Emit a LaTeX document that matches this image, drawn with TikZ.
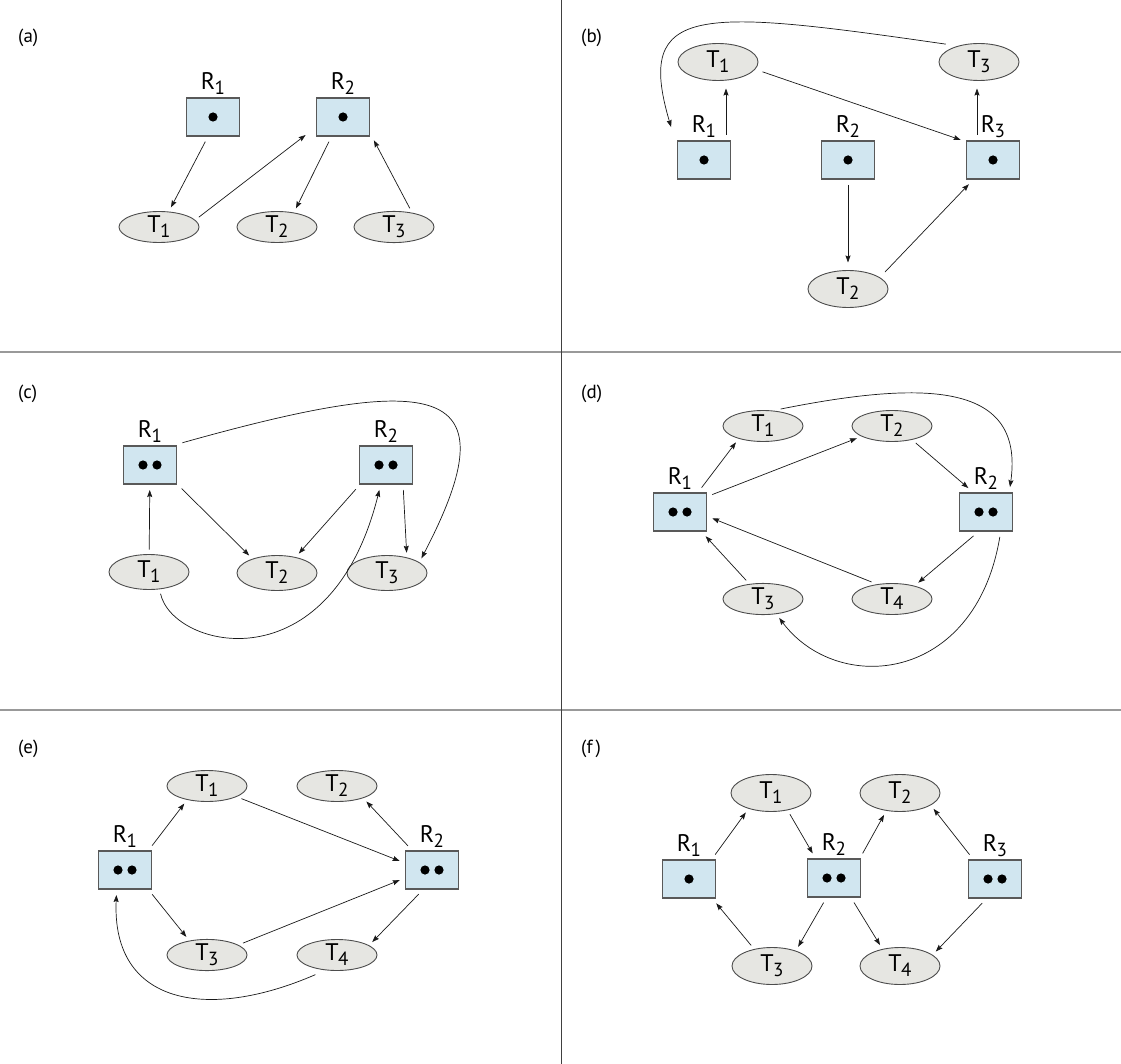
\documentclass[tikz,border=0pt]{standalone}
\usepackage{fontspec}
\setmainfont{PT Sans}
\usetikzlibrary{arrows.meta,positioning,shapes.geometric}
\definecolor{resblue}{RGB}{209,230,240}
\definecolor{procgray}{RGB}{230,230,226}
\newcommand{\subidx}[1]{\raisebox{-5pt}{\fontsize{19}{19}\selectfont #1}}
\newcommand{\tlab}[1]{T\kern-0.5pt\subidx{#1}}
\newcommand{\rlab}[1]{R\kern-0.5pt\subidx{#1}}
\begin{document}
\begin{tikzpicture}[x=1pt,y=-1pt,
    res/.style={rectangle,draw=black!65,line width=1.2pt,fill=resblue,minimum width=53pt,minimum height=38pt,inner sep=0pt,outer sep=3pt},
    one/.style={path picture={\fill[black] (path picture bounding box.center) circle (4.6pt);}},
    two/.style={path picture={\fill[black] ([xshift=-7pt]path picture bounding box.center) circle (4.6pt) ([xshift=7pt]path picture bounding box.center) circle (4.6pt);}},
    proc/.style={ellipse,draw=black!70,line width=0.9pt,fill=procgray,minimum width=80pt,minimum height=31pt,inner sep=0pt,outer sep=2pt,font=\fontsize{24}{24}\selectfont},
    rlbl/.style={font=\fontsize{24}{24}\selectfont,inner sep=0pt},
    panel/.style={font=\fontsize{19}{19}\selectfont,anchor=base west,inner sep=0pt},
    arr/.style={-{Stealth[length=7pt,width=5pt,inset=1pt]},line width=0.7pt,draw=black!90,shorten <=3pt,shorten >=3pt},
  ]
  \useasboundingbox (0,0) rectangle (1121,1064);
  \draw[black!40,line width=1.5pt] (0,352) -- (1121,352) (0,710) -- (1121,710);
  \draw[black!75,line width=1pt] (561,0) -- (561,1064);

  \node[panel] (la) at (18,43) {(a)};
  \node[res,one] (ar1) at (213,117) {};
  \node[res,one] (ar2) at (343,117) {};
  \node[rlbl,above=0pt of ar1] (ar1l) {\rlab{1}};
  \node[rlbl,above=0pt of ar2] (ar2l) {\rlab{2}};
  \node[proc] (at1) at (159,227) {\tlab{1}};
  \node[proc] (at2) at (277,227) {\tlab{2}};
  \node[proc] (at3) at (394,227) {\tlab{3}};
  \begin{scope}[arr]
    \draw (ar1.-106) to (at1.58);
    \draw[shorten >=10pt] (at1.12) to (ar2.202);
    \draw (ar2.240) to (at2.42);
    \draw (at3.43) to (ar2.-35);
  \end{scope}

  \node[panel] (lb) at (581,43) {(b)};
  \begin{scope}[proc/.append style={minimum height=37pt,outer sep=5pt}]
    \node[proc] (bt1) at (718,62) {\tlab{1}};
    \node[proc] (bt3) at (979,62) {\tlab{3}};
    \node[proc] (bt2) at (848,289) {\tlab{2}};
  \end{scope}
  \node[res,one] (br1) at (704,160) {};
  \node[res,one] (br2) at (848,160) {};
  \node[res,one] (br3) at (993,160) {};
  \node[rlbl,above=0pt of br1] (br1l) {\rlab{1}};
  \node[rlbl,above=0pt of br2] (br2l) {\rlab{2}};
  \node[rlbl,above=0pt of br3] (br3l) {\rlab{3}};
  \begin{scope}[arr]
    \draw ([xshift=22pt]br1.north) to ([xshift=8pt]bt1.south);
    \draw ([xshift=-16pt]br3.north) to ([xshift=-2pt]bt3.south);
    \draw (bt1.-12) to (br3.147);
    \draw (br2) to (bt2);
    \draw (bt2.23) to (br3.225);
    \draw[shorten >=12pt] (bt3.150) .. controls +(-250,-36) and +(-40,-135) .. (br1.144);
  \end{scope}

  \node[panel] (lc) at (18,398) {(c)};
  \node[res,two] (cr1) at (150,465) {};
  \node[res,two] (cr2) at (386,465) {};
  \node[rlbl,above=0pt of cr1] (cr1l) {\rlab{1}};
  \node[rlbl,above=0pt of cr2] (cr2l) {\rlab{2}};
  \begin{scope}[proc/.append style={minimum height=35pt}]
    \node[proc] (ct1) at (149,572) {\tlab{1}};
    \node[proc] (ct2) at (277,573) {\tlab{2}};
    \node[proc] (ct3) at (387,573) {\tlab{3}};
  \end{scope}
  \begin{scope}[arr]
    \draw (ct1) to (cr1);
    \draw (cr1.-36) to (ct2.149);
    \draw (cr2.218) to (ct2.41);
    \draw (cr2.-52) to (ct3.41);
    \draw (cr1.36) .. controls +(260,-73) and +(93,-178) .. (ct3.20);
    \draw (ct1.-60) .. controls +(13,58) and +(-50,200) .. (cr2.-105);
  \end{scope}

  \node[panel] (ld) at (581,398) {(d)};
  \node[proc] (dt1) at (763,426) {\tlab{1}};
  \node[proc] (dt2) at (892,426) {\tlab{2}};
  \node[res,two] (dr1) at (680,512) {};
  \node[res,two] (dr2) at (986,512) {};
  \node[rlbl,above=0pt of dr1] (dr1l) {\rlab{1}};
  \node[rlbl,above=0pt of dr2] (dr2l) {\rlab{2}};
  \node[proc] (dt3) at (763,599) {\tlab{3}};
  \node[proc] (dt4) at (892,599) {\tlab{4}};
  \begin{scope}[arr]
    \draw (dr1.48) to (dt1.209);
    \draw (dr1.29) to (dt2.199);
    \draw (dt2.-35) to (dr2.125);
    \draw (dt1.48) .. controls +(150,-30) and +(15,-107) .. (dr2.43);
    \draw (dr2.245) to (dt4.31);
    \draw (dt4.138) to (dr1.-10);
    \draw (dt3.132) to (dr1.-43);
    \draw (dr2.-57) .. controls +(-25,150) and +(60,80) .. (dt3.-49);
  \end{scope}

  \node[panel] (le) at (18,753) {(e)};
  \node[proc] (et1) at (207,786) {\tlab{1}};
  \node[proc] (et2) at (337,786) {\tlab{2}};
  \node[res,two] (er1) at (125,870) {};
  \node[res,two] (er2) at (432,870) {};
  \node[rlbl,above=0pt of er1] (er1l) {\rlab{1}};
  \node[rlbl,above=0pt of er2] (er2l) {\rlab{2}};
  \node[proc] (et3) at (207,955) {\tlab{3}};
  \node[proc] (et4) at (337,955) {\tlab{4}};
  \begin{scope}[arr]
    \draw (er1.41) to (et1.216);
    \draw (et1.-20) to (er2.165);
    \draw (er2.135) to (et2.-26);
    \draw (er1.-41) to (et3.140);
    \draw (et3.18) to (er2.197);
    \draw (er2.243) to (et4.18);
    \draw[shorten <=8pt] (et4.229) .. controls +(-115,50) and +(-5,113) .. (er1.249);
  \end{scope}

  \node[panel] (lf) at (581,753) {(f\,)};
  \begin{scope}[proc/.append style={minimum height=37pt}]
    \node[proc] (ft1) at (771,793) {\tlab{1}};
    \node[proc] (ft2) at (900,793) {\tlab{2}};
    \node[proc] (ft3) at (772,966) {\tlab{3}};
    \node[proc] (ft4) at (900,966) {\tlab{4}};
  \end{scope}
  \node[res,one] (fr1) at (689,879) {};
  \node[res,two] (fr2) at (834,878) {};
  \node[res,two] (fr3) at (995,879) {};
  \node[rlbl,above=0pt of fr1] (fr1l) {\rlab{1}};
  \node[rlbl,above=0pt of fr2] (fr2l) {\rlab{2}};
  \node[rlbl,above=0pt of fr3] (fr3l) {\rlab{3}};
  \begin{scope}[arr]
    \draw (fr1.42) to (ft1.216);
    \draw (ft1.-47) to (fr2.132);
    \draw (fr2.39) to (ft2.233);
    \draw (fr3.137) to (ft2.-23);
    \draw (fr2.248) to (ft3.34);
    \draw (ft3.136) to (fr1.-41);
    \draw (fr2.-50) to (ft4.135);
    \draw (fr3.244) to (ft4.20);
  \end{scope}
\end{tikzpicture}
\end{document}
